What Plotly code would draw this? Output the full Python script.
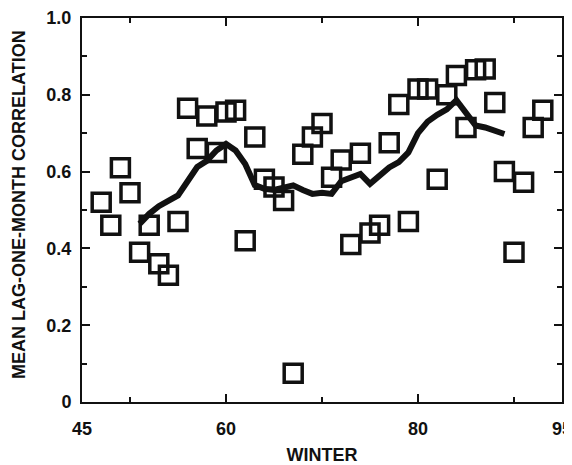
import plotly.graph_objects as go

years = list(range(47, 94))
corr = [0.52, 0.46, 0.61, 0.545, 0.39, 0.46, 0.36, 0.33, 0.47, 0.765,
        0.66, 0.745, 0.65, 0.755, 0.76, 0.42, 0.69, 0.58, 0.56, 0.525,
        0.075, 0.645, 0.69, 0.725, 0.585, 0.63, 0.41, 0.648, 0.44, 0.46,
        0.675, 0.775, 0.47, 0.815, 0.815, 0.58, 0.80, 0.85, 0.715, 0.865,
        0.867, 0.78, 0.60, 0.39, 0.572, 0.715, 0.76]

line_years = list(range(51, 90))
line_vals = [0.464, 0.49, 0.51, 0.525, 0.538, 0.575, 0.612, 0.628, 0.655, 0.672,
             0.655, 0.62, 0.565, 0.555, 0.552, 0.558, 0.564, 0.552, 0.542, 0.545,
             0.542, 0.575, 0.585, 0.594, 0.568, 0.59, 0.611, 0.625, 0.65, 0.70,
             0.73, 0.748, 0.762, 0.786, 0.75, 0.72, 0.715, 0.705, 0.698]

x_ticks = [45, 60, 80, 95]
x_ticktext = ["45", "60", "80", "95"]
x_minor = [50, 70, 90]
y_ticks = [0, 0.2, 0.4, 0.6, 0.8, 1.0]
y_ticktext = ["0", "0.2", "0.4", "0.6", "0.8", "1.0"]
y_minor = [0.1, 0.3, 0.5, 0.7, 0.9]

ink = "#111111"
font = "Liberation Sans, Arial, sans-serif"

fig = go.Figure()
fig.add_trace(go.Scatter(
    x=years, y=corr, mode="markers",
    marker=dict(symbol="square-open", size=18, color=ink, line=dict(width=3.5, color=ink)),
    showlegend=False, cliponaxis=False))
fig.add_trace(go.Scatter(
    x=line_years, y=line_vals, mode="lines",
    line=dict(width=6, color=ink),
    showlegend=False))

axis_common = dict(
    showline=True, linecolor=ink, linewidth=2, mirror="ticks",
    ticks="inside", tickcolor=ink, tickwidth=2, ticklen=8,
    showgrid=False, zeroline=False, automargin=False,
    ticklabeloverflow="allow",
    tickfont=dict(family=font, size=18, color=ink, weight="bold"),
)

# the page body adds an 8px margin, so the figure is sized to fit the window
fig.update_layout(
    width=564, height=457,
    margin=dict(l=74, r=10, t=10, b=63),
    paper_bgcolor="white", plot_bgcolor="white",
    font=dict(family=font, color=ink),
    xaxis=dict(
        range=[45, 95], tickmode="array", tickvals=x_ticks, ticktext=x_ticktext,
        ticklabelstandoff=9,
        minor=dict(tickmode="array", tickvals=x_minor, ticks="inside", ticklen=5,
                   tickwidth=2, tickcolor=ink, showgrid=False),
        title=dict(text="WINTER", font=dict(family=font, size=18, color=ink, weight="bold"),
                   standoff=12),
        **axis_common),
    yaxis=dict(
        range=[0, 1], tickmode="array", tickvals=y_ticks, ticktext=y_ticktext,
        ticklabelstandoff=5,
        minor=dict(tickmode="array", tickvals=y_minor, ticks="inside", ticklen=5,
                   tickwidth=2, tickcolor=ink, showgrid=False),
        **axis_common),
    annotations=[dict(
        text="MEAN LAG-ONE-MONTH CORRELATION", textangle=-90,
        xref="paper", yref="paper", x=0, y=0.5, xanchor="center", yanchor="middle",
        xshift=-63, yshift=5, showarrow=False,
        font=dict(family=font, size=18, color=ink, weight="bold"))],
)

fig.write_html("out.html")
